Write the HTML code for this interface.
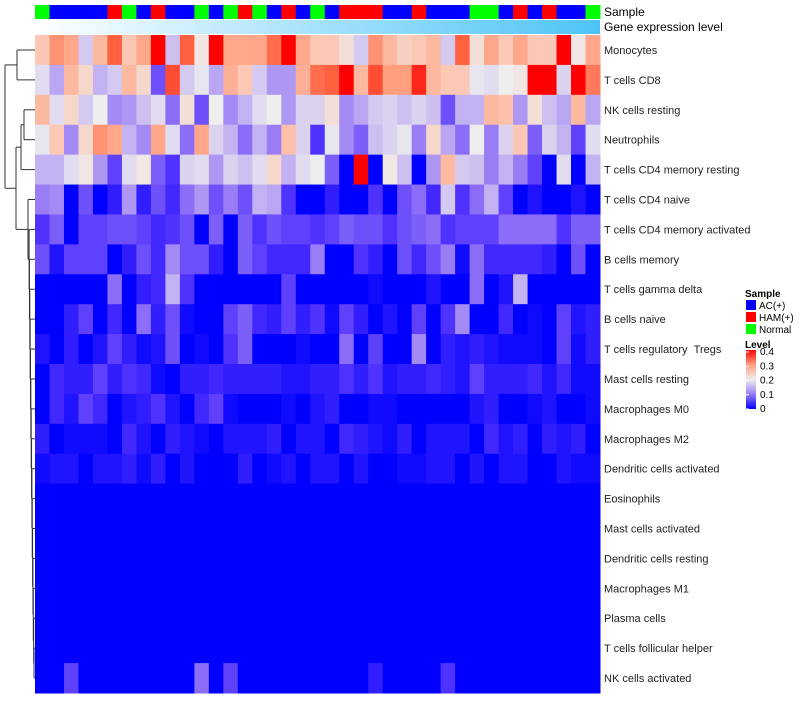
<!DOCTYPE html>
<html><head><meta charset="utf-8"><style>
body{margin:0;background:#fff;width:800px;height:700px;overflow:hidden;font-family:"Liberation Sans",sans-serif}
</style></head><body>
<svg id="chart" width="800" height="700" xmlns="http://www.w3.org/2000/svg" style="font-family:'Liberation Sans',sans-serif">
<defs>
<linearGradient id="geneGrad" x1="0" x2="1" y1="0" y2="0"><stop offset="0" stop-color="#ffffff"/><stop offset="1" stop-color="#4dc4f6"/></linearGradient>
<linearGradient id="levelGrad" x1="0" x2="0" y1="1" y2="0">
<stop offset="0" stop-color="#0000ff"/><stop offset="0.25" stop-color="#9a7cf5"/><stop offset="0.5" stop-color="#eeeeee"/><stop offset="0.75" stop-color="#ff9f80"/><stop offset="1" stop-color="#ff0000"/></linearGradient>
</defs>
<g id="annot"></g><g id="cells"></g><g id="labels"></g><g id="dendro" stroke="#333" stroke-width="1" fill="none"></g>
<text x="604" y="16" font-size="12">Sample</text>
<text x="604" y="31" font-size="12">Gene expression level</text>
<rect x="35" y="20" width="565" height="14" fill="url(#geneGrad)"/>
<g>
<text x="745" y="297" font-size="10" font-weight="bold">Sample</text>
<rect x="746" y="300" width="10" height="10" fill="#0000ff"/>
<text x="759" y="309" font-size="10">AC(+)</text>
<rect x="746" y="312" width="10" height="10" fill="#ff0000"/>
<text x="759" y="321" font-size="10">HAM(+)</text>
<rect x="746" y="324" width="10" height="10" fill="#00ff00"/>
<text x="759" y="333" font-size="10">Normal</text>
<text x="745" y="348" font-size="10" font-weight="bold">Level</text>
<rect x="746" y="350" width="10" height="59" fill="url(#levelGrad)"/>
<g id="levelTicks"></g>
</g>
</svg>
<script>
const rowNames=["Monocytes","T cells CD8","NK cells resting","Neutrophils","T cells CD4 memory resting","T cells CD4 naive","T cells CD4 memory activated","B cells memory","T cells gamma delta","B cells naive","T cells regulatory \u00a0Tregs","Mast cells resting","Macrophages M0","Macrophages M2","Dendritic cells activated","Eosinophils","Mast cells activated","Dendritic cells resting","Macrophages M1","Plasma cells","T cells follicular helper","NK cells activated"];
const sampleGroups="N A A A A H N A H A A N A N H N A H A N A H H H A A H A A A N N A H A H A A N".split(" ");
const levelTicks=[0,0.1,0.2,0.3,0.4];
const z=new Array(39).fill(0);
const rowMonocytes=[.25,.31,.29,.16,.27,.35,.25,.29,.4,.15,.35,.21,.4,.29,.29,.29,.34,.4,.29,.25,.25,.22,.16,.31,.27,.24,.25,.27,.16,.35,.22,.29,.25,.29,.25,.25,.4,.21,.29];
const rowCD8=[.18,.13,.27,.23,.14,.16,.27,.23,.07,.36,.16,.19,.13,.28,.25,.16,.12,.12,.28,.34,.35,.4,.27,.36,.3,.3,.38,.27,.25,.25,.19,.18,.2,.21,.4,.4,.17,.4,.33];
const rowNKrest=[.27,.18,.23,.16,.2,.11,.12,.15,.18,.09,.22,.07,.2,.11,.14,.18,.2,.12,.17,.17,.22,.11,.13,.16,.17,.15,.17,.15,.07,.14,.14,.27,.26,.12,.22,.15,.13,.27,.13];
const rowNeut=[.19,.25,.11,.23,.31,.29,.14,.11,.29,.18,.09,.29,.17,.14,.09,.14,.1,.26,.17,.05,.19,.11,.08,.15,.17,.19,.1,.23,.13,.09,.2,.1,.17,.25,.08,.17,.14,.06,.18];
const rowCD4mr=[.14,.14,.18,.21,.12,.06,.18,.21,.08,.05,.17,.18,.12,.17,.15,.18,.23,.14,.18,.2,.08,0,.4,0,.21,.15,0,.12,.27,.16,.15,.1,.14,.1,.06,0,.18,0,.14];
const rowCD4n=[.1,.11,0,.07,0,.03,.12,.03,.07,.04,.09,.12,.07,.1,.07,.14,.13,.05,0,0,.03,0,0,.05,0,.07,.09,.04,.16,.05,.09,.14,.06,0,.02,0,0,.02,0];
const rowCD4ma=[.05,.08,0,.06,.06,.07,.07,.06,.04,.05,.07,0,.08,0,.08,.05,.07,.06,.06,.05,.06,.08,.07,.07,.05,.07,.08,.09,.05,.06,.06,.06,.09,.09,.09,.09,.05,.08,.08];
const rowBmem=[.07,.02,.06,.06,.06,0,.03,.07,.04,.11,.07,.07,.03,0,.08,.06,.04,.04,.04,.1,0,0,.05,.03,0,.07,.04,.07,.1,.01,.09,.04,.04,.04,.04,.03,0,.07,0];
const rowTgd=[0,0,0,0,0,.09,0,.03,.04,.14,.05,0,0,0,0,0,0,.06,0,0,0,0,0,.01,0,0,0,.02,0,0,.09,0,.02,.14,0,0,0,0,0];
const rowBn=[0,0,.03,.06,0,.04,0,.09,.03,.07,.01,0,0,.06,.08,.04,.03,.06,.03,.05,.01,.06,.03,0,.02,0,.06,0,.05,.11,0,0,.04,0,.01,0,.06,.02,.03];
const rowTreg=[.02,0,.03,0,.02,.06,.03,.01,.02,.07,0,.01,0,.05,.08,0,0,0,.01,0,0,.09,0,.06,0,0,.11,0,.03,.02,.03,.02,.01,.01,.01,0,.06,.01,.03];
const rowMastR=[0,.04,.03,.03,.06,.03,.05,.04,.01,0,.03,.03,.04,.03,.03,.03,.03,.02,.02,.03,.03,.05,.03,.05,.02,.03,.03,.04,.03,.02,.06,.03,.03,.03,.04,.02,.04,.01,.01];
const rowM0=[0,.04,.02,.06,.04,0,.02,.03,.05,.02,0,.04,.06,.01,0,0,0,.01,0,.02,.03,0,0,.01,.01,0,0,0,0,0,.02,.03,0,0,.01,.02,0,0,.01];
const rowM2=[.03,0,.01,.01,.01,0,.04,.02,0,.03,.02,.01,0,.02,.02,.02,.03,0,.02,.02,0,.04,.03,.02,.01,.03,0,.02,.02,.02,0,.04,.02,.03,0,.03,.02,.03,0];
const rowDCa=[.01,.02,.02,0,.02,.02,.03,.01,.03,0,.02,0,0,0,.03,0,.01,.02,0,.02,.02,0,.02,0,0,.01,.01,.02,.02,0,.02,0,.02,.02,0,0,.02,.01,.01];
const rowNKa=[0,0,.06,0,0,0,0,0,0,0,0,.09,0,.06,0,0,0,0,0,0,0,0,0,.03,0,0,0,0,.05,0,0,0,0,0,0,0,0,0,0];
const values=[rowMonocytes,rowCD8,rowNKrest,rowNeut,rowCD4mr,rowCD4n,rowCD4ma,rowBmem,rowTgd,rowBn,rowTreg,rowMastR,rowM0,rowM2,rowDCa,z,z,z,z,z,z,rowNKa];

const NS="http://www.w3.org/2000/svg";
const X0=35,X1=600,Y0=35,Y1=693;
const nCol=values[0].length,nRow=values.length;
const cw=(X1-X0)/nCol,rh=(Y1-Y0)/nRow;
const xPos=i=>X0+i*cw, yPos=r=>Y0+r*rh;
const stops=[[0,[0,0,255]],[0.05,[80,50,255]],[0.1,[154,124,245]],[0.15,[205,192,240]],[0.2,[238,238,238]],[0.25,[251,200,182]],[0.3,[255,159,128]],[0.35,[255,96,64]],[0.4,[255,0,0]]];
function colorOf(v){v=Math.max(0,Math.min(0.4,v));for(let i=1;i<stops.length;i++){if(v<=stops[i][0]){const a=stops[i-1],b=stops[i];const t=(v-a[0])/(b[0]-a[0]);return "rgb("+a[1].map((c,k)=>Math.round(c+(b[1][k]-c)*t)).join(",")+")";}}return "rgb(255,0,0)";}
const grpColor={A:"#0000ff",H:"#ff0000",N:"#00ff00"};
const annot=document.getElementById("annot");
sampleGroups.forEach((g,i)=>{const r=document.createElementNS(NS,"rect");r.setAttribute("x",xPos(i));r.setAttribute("y",5);r.setAttribute("width",cw+0.5);r.setAttribute("height",14);r.setAttribute("fill",grpColor[g]);


annot.appendChild(r);});
const cells=document.getElementById("cells");
values.forEach((row,r)=>row.forEach((v,i)=>{const el=document.createElementNS(NS,"rect");el.setAttribute("x",xPos(i));el.setAttribute("y",yPos(r));el.setAttribute("width",cw+0.5);el.setAttribute("height",rh+0.5);el.setAttribute("fill",colorOf(v));


cells.appendChild(el);}));
const labels=document.getElementById("labels");
rowNames.forEach((n,r)=>{const t=document.createElementNS(NS,"text");t.setAttribute("x",604);t.setAttribute("y",yPos(r)+rh/2+4);t.setAttribute("font-size","11");t.setAttribute("fill","#222");t.textContent=n;


labels.appendChild(t);});
const lt=document.getElementById("levelTicks");
levelTicks.forEach(v=>{const y=409-v/0.4*57;const t=document.createElementNS(NS,"text");t.setAttribute("x",760);t.setAttribute("y",y+3);t.setAttribute("font-size","10");t.textContent=String(v);


lt.appendChild(t);
const l=document.createElementNS(NS,"line");l.setAttribute("x1",746);l.setAttribute("x2",749);l.setAttribute("y1",y);l.setAttribute("y2",y);l.setAttribute("stroke","#fff");lt.appendChild(l);});
function leaf(r){return {y:yPos(r)+rh/2,x:35};}
function node(a,b,h){return {a,b,x:h,y:(a.y+b.y)/2};}
const dg=document.getElementById("dendro");
function draw(n){if(!n.a)return;[n.a,n.b].forEach(c=>{const p=document.createElementNS(NS,"path");p.setAttribute("d",`M${n.x},${c.y}H${c.x}`);dg.appendChild(p);draw(c);});const p=document.createElementNS(NS,"path");p.setAttribute("d",`M${n.x},${n.a.y}V${n.b.y}`);dg.appendChild(p);}
let rest=node(leaf(20),leaf(21),34);
for(let r=19;r>=6;r--)rest=node(leaf(r),rest,Math.max(29,34-(20-r)*0.35));
rest=node(leaf(5),rest,28);
const m1=node(leaf(0),leaf(1),17);
const m2=node(leaf(2),leaf(3),24);
const m3=node(m2,leaf(4),21);
const m5=node(m3,rest,16);
const root=node(m1,m5,5);
draw(root);


</script>
</body></html>
